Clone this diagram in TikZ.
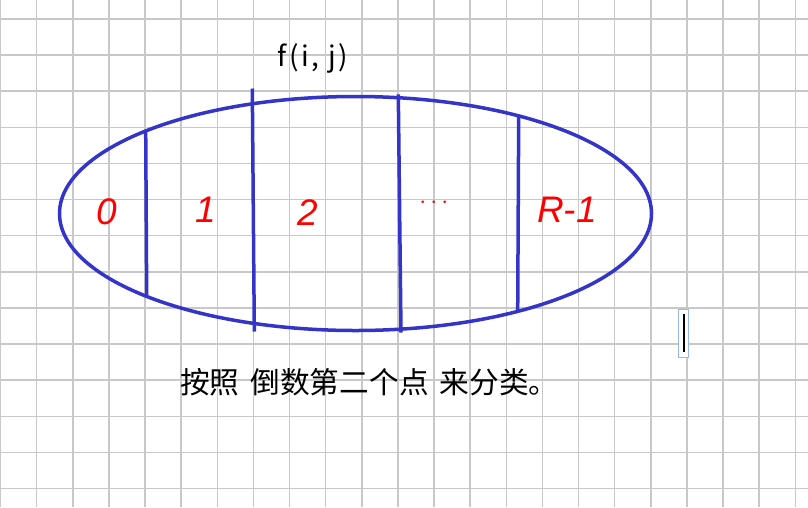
\documentclass[tikz,border=0pt]{standalone}
\usepackage{fontspec}
\usepackage{amsmath}
\usetikzlibrary{math}
\newfontfamily\cjkfont{Noto Sans CJK SC}
\newfontfamily\labelfont[LetterSpace=9]{Noto Sans CJK SC}
\newfontfamily\handfont{Liberation Sans}
\definecolor{inkblue}{RGB}{52,52,200}
\definecolor{inkred}{RGB}{255,0,0}
\definecolor{gridgray}{RGB}{200,200,200}
\definecolor{boxblue}{RGB}{150,185,225}

\begin{document}
\begin{tikzpicture}[x=1pt, y=-1pt,
    ink/.style={draw=inkblue, line width=3.5pt},
    digit/.style={text=inkred, font=\handfont\itshape\fontsize{37}{37}\selectfont, inner sep=0pt}]
      \tikzmath{\cx = 355.5; \cy = 213.5; \ra = 296; \rb = 117; \gs = 36.12;}
      \useasboundingbox[fill=white] (0,0) rectangle (808,507);
      \foreach \k in {0,...,22} \draw[gridgray, line width=1.5pt] (0.6+\k*\gs,0) -- (0.6+\k*\gs,507);
      \foreach \k in {0,...,13} \draw[gridgray, line width=1.5pt] (0,19+\k*\gs) -- (808,19+\k*\gs);
      \draw[ink] (\cx,\cy) ellipse [x radius=\ra pt, y radius=\rb pt];
      \draw[ink] (145.7,130.5) -- (146.7,297);
      \draw[ink] (252.3,88.5) -- (254.3,331.5);
      \draw[ink] (398.3,94.3) -- (401,332.5);
      \draw[ink] (518.7,116) -- (517.7,311.5);
      \node[digit] (zero) at (107,212) {0};
      \node[digit] (one) at (206,210) {1};
      \node[digit] (two) at (308,213) {2};
      \node[text=inkred, font=\fontsize{32}{32}\selectfont, inner sep=0pt] (dots) at (436,203) {$\cdots$};
      \node[digit] (last) at (567,210) {R-1};
      \node[font=\labelfont\fontsize{28}{28}\selectfont, anchor=base, inner sep=0pt] (fij) at (313,66.7) {f(i, j)};
      \node[font=\cjkfont\fontsize{29.7}{29.7}\selectfont, anchor=base west, inner sep=0pt] (caption) at (180,393) {\spaceskip=11pt 按照 倒数第二个点 来分类。};
      % text cursor box
      \draw[boxblue, fill=white, line width=0.7pt] (678.3,309) rectangle (688.7,357.3);
      \draw[black, line width=2pt] (684,314) -- (684,352);
\end{tikzpicture}
\end{document}
